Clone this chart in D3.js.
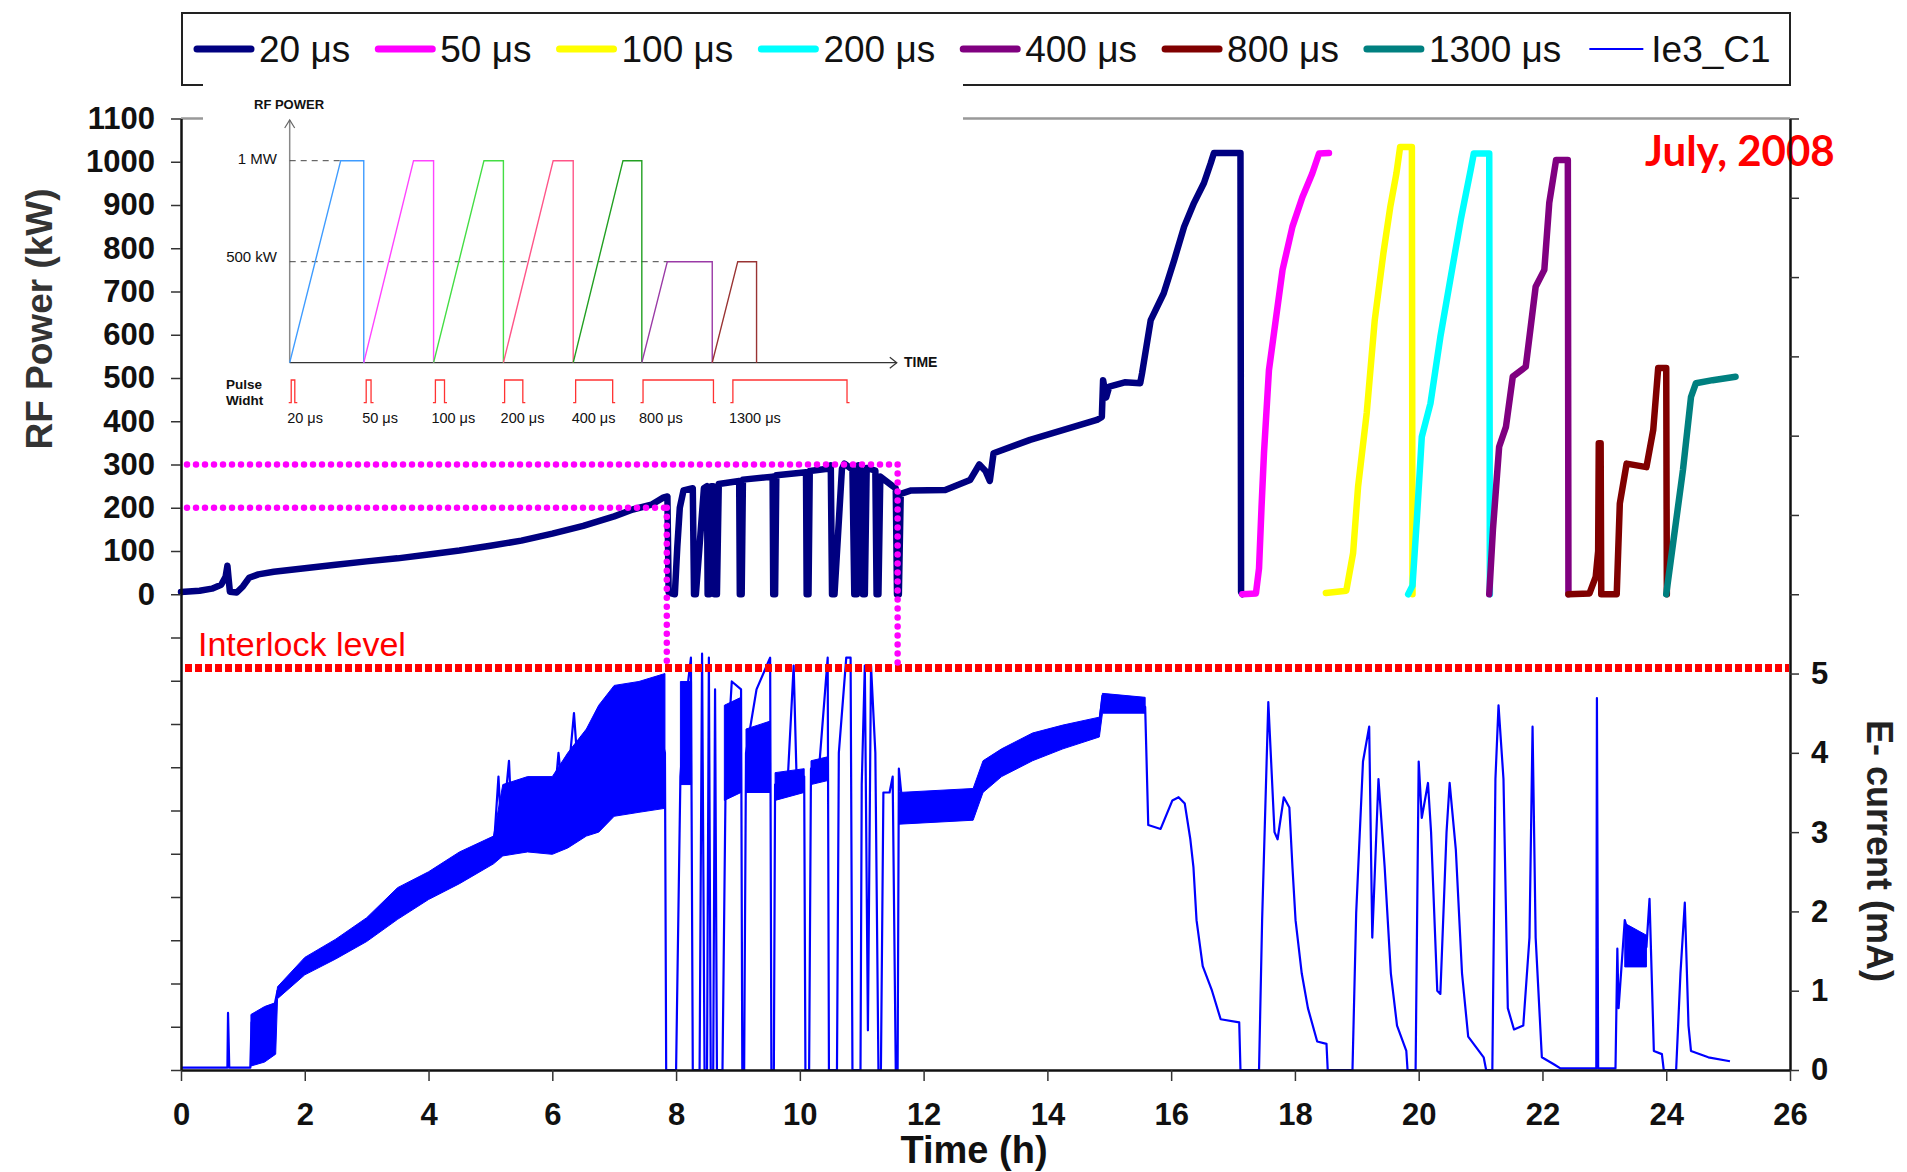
<!DOCTYPE html>
<html><head><meta charset="utf-8">
<script src="https://cdn.jsdelivr.net/npm/d3@7"></script>
<style>body{margin:0;background:#fff} svg{display:block}</style>
</head><body>
<svg id="c" width="1907" height="1172"></svg>
<script>
// ---------- DATA ----------
const xTicks = d3.range(0, 27, 2);
const powerTicks = d3.range(-1100, 1101, 100);
const powerLabelled = d3.range(0, 1101, 100);
const currentTicks = d3.range(0, 13, 1);
const currentLabelled = [0, 1, 2, 3, 4, 5];

const seriesNames = ["20 μs", "50 μs", "100 μs", "200 μs", "400 μs", "800 μs", "1300 μs", "Ie3_C1"];
const seriesColors = ["#000080", "#FF00FF", "#FFFF00", "#00FFFF", "#800080", "#800000", "#008080", "#0000FF"];

// RF power (kW) vs time (h)
const p20 = [[0,5],[0.3,8],[0.5,13],[0.65,22],[0.72,40],[0.75,66],[0.77,35],[0.79,6],[0.9,4],[1.0,18],[1.1,38],[1.25,46],[1.5,52],[2.0,60],[2.5,68],[3.0,76],[3.5,83],[4.0,92],[4.5,101],[5.0,112],[5.5,124],[6.0,140],[6.5,158],[7.0,180],[7.3,196],[7.6,207],[7.8,224],[7.86,226],[7.88,4],[7.98,0],[8.02,110],[8.06,200],[8.12,240],[8.27,245],[8.29,0],[8.32,0],[8.45,245],[8.5,250],[8.51,0],[8.54,0],[8.57,250],[8.6,250],[8.62,0],[8.66,0],[8.69,255],[9.02,262],[9.03,0],[9.06,0],[9.08,265],[9.56,272],[9.57,0],[9.6,0],[9.62,275],[10.1,282],[10.11,0],[10.14,0],[10.16,285],[10.45,290],[10.5,298],[10.52,0],[10.56,0],[10.68,290],[10.72,302],[10.85,288],[10.88,0],[10.92,0],[10.95,298],[11.0,282],[11.02,0],[11.05,0],[11.08,292],[11.22,286],[11.24,0],[11.27,0],[11.3,272],[11.5,250],[11.55,245],[11.57,0],[11.6,0],[11.63,232],[11.8,240],[12.35,241],[12.75,264],[12.9,300],[13.0,285],[13.07,262],[13.13,326],[13.72,357],[14.26,380],[14.8,403],[14.88,410],[14.9,495],[14.95,455],[15.0,480],[15.25,490],[15.5,488],[15.53,511],[15.67,634],[15.88,696],[16.05,773],[16.21,850],[16.37,905],[16.53,951],[16.64,997],[16.69,1020],[17.12,1020],[17.13,5],[17.15,0]];
const p50 = [[17.15,0],[17.37,2],[17.42,60],[17.46,200],[17.5,326],[17.58,518],[17.69,634],[17.8,750],[17.96,850],[18.12,918],[18.28,973],[18.39,1019],[18.55,1020]];
const p100 = [[18.5,3],[18.83,8],[18.94,95],[19.02,248],[19.16,419],[19.29,634],[19.43,789],[19.54,895],[19.64,973],[19.7,1034],[19.89,1034],[19.9,0]];
const p200 = [[19.83,0],[19.9,20],[19.97,172],[20.05,364],[20.19,441],[20.35,595],[20.51,727],[20.68,866],[20.84,981],[20.89,1019],[21.14,1019],[21.15,0]];
const p400 = [[21.14,0],[21.2,150],[21.3,341],[21.41,387],[21.52,503],[21.73,526],[21.89,711],[22.03,750],[22.11,905],[22.22,1004],[22.41,1004],[22.42,0]];
const p800 = [[22.42,0],[22.76,2],[22.86,40],[22.9,100],[22.91,349],[22.94,349],[22.95,0],[23.2,0],[23.25,210],[23.36,302],[23.68,294],[23.79,380],[23.87,523],[24.0,523],[24.01,0]];
const p1300 = [[24.0,0],[24.27,287],[24.4,456],[24.48,488],[24.75,495],[25.12,503]];

// E- current (mA) trace
const ieLine = [[0,0.03],[0.75,0.03],[0.76,0.72],[0.78,0.03],[1.12,0.03],[1.14,0.6],[1.2,0.1],[1.27,0.7],[1.33,0.15],[1.4,0.8],[1.45,0.2],[1.52,0.85],[1.56,1.0],[2.0,1.3],[2.5,1.5],[3.0,1.75],[3.5,2.05],[4.0,2.3],[4.5,2.5],[5.05,2.75],[5.13,3.7],[5.18,2.9],[5.3,3.9],[5.35,3.0],[6.0,3.1],[6.1,4.0],[6.2,3.2],[6.35,4.5],[6.45,3.4],[6.8,4.3],[7.2,4.2],[7.5,4.9],[7.82,4.0],[7.84,0],[8.0,0],[8.07,3.7],[8.15,4.6],[8.24,5.2],[8.27,0],[8.38,0],[8.42,5.25],[8.46,0],[8.5,0],[8.53,5.2],[8.56,0],[8.6,0],[8.63,4.8],[8.66,0],[8.75,0],[8.8,3.6],[8.9,4.9],[9.05,4.8],[9.07,0],[9.1,0],[9.13,4.0],[9.3,4.8],[9.52,5.2],[9.54,0],[9.58,0],[9.6,3.6],[9.8,3.6],[9.9,5.1],[9.95,3.6],[10.07,3.7],[10.09,0],[10.15,0],[10.18,3.8],[10.3,3.7],[10.45,5.2],[10.47,0],[10.6,0],[10.63,4.0],[10.75,5.2],[10.82,5.2],[10.85,0],[10.98,0],[11.0,3.6],[11.05,5.1],[11.1,0.5],[11.15,5.1],[11.22,4.0],[11.27,0],[11.31,0],[11.35,3.5],[11.45,3.5],[11.5,3.7],[11.55,0],[11.58,0],[11.6,3.8],[11.65,3.4],[12.0,3.3],[12.5,3.35],[12.8,3.4],[12.96,3.75],[13.26,3.9],[13.76,4.1],[14.25,4.24],[14.84,4.38],[14.89,4.72],[14.94,4.6],[15.58,4.58],[15.63,3.09],[15.83,3.04],[16.02,3.4],[16.12,3.44],[16.22,3.36],[16.31,2.91],[16.36,2.56],[16.41,1.89],[16.51,1.31],[16.66,1.0],[16.8,0.64],[17.1,0.6],[17.12,0],[17.42,0],[17.47,1.89],[17.57,4.64],[17.67,3.0],[17.72,2.91],[17.82,3.44],[17.91,3.31],[17.96,2.56],[18.01,1.89],[18.11,1.22],[18.21,0.78],[18.36,0.36],[18.51,0.33],[18.53,0],[18.93,0],[18.99,1.98],[19.1,3.89],[19.2,4.33],[19.25,1.67],[19.35,3.67],[19.45,2.56],[19.55,1.22],[19.65,0.56],[19.8,0.24],[19.82,0],[19.95,0],[20.0,3.89],[20.05,3.18],[20.15,3.62],[20.2,3.0],[20.3,1.0],[20.35,0.96],[20.45,3.0],[20.5,3.62],[20.6,2.78],[20.7,1.22],[20.8,0.42],[21.05,0.16],[21.09,0],[21.19,0],[21.24,3.67],[21.29,4.6],[21.37,3.67],[21.44,0.78],[21.54,0.51],[21.69,0.56],[21.79,1.67],[21.84,4.33],[21.89,1.67],[21.99,0.16],[22.19,0.07],[22.29,0.02],[22.87,0.02],[22.88,4.69],[22.9,0.02],[23.18,0.02],[23.21,1.53],[23.23,0.78],[23.33,1.89],[23.5,1.4],[23.68,1.55],[23.73,2.16],[23.8,0.24],[23.93,0.2],[23.96,0],[24.16,0],[24.23,1.22],[24.3,2.11],[24.36,0.56],[24.4,0.24],[24.68,0.16],[25.03,0.11]];

// E- current noise envelope [t, low, high]
const ieBands = [
  [[1.13,0.05,0.7],[1.35,0.1,0.8],[1.53,0.2,0.85],[1.56,0.9,1.05],[2.0,1.2,1.42],[2.5,1.4,1.65],[3.0,1.62,1.92],[3.5,1.9,2.3],[4.0,2.15,2.5],[4.5,2.35,2.75],[5.05,2.6,2.95],[5.2,2.7,3.6],[5.6,2.75,3.7],[6.0,2.72,3.7],[6.25,2.8,4.0],[6.55,2.95,4.3],[6.75,3.0,4.6],[7.0,3.2,4.85],[7.4,3.25,4.9],[7.82,3.3,5.0]],
  [[8.07,3.6,4.9],[8.25,3.6,4.9]],
  [[8.78,3.4,4.6],[9.05,3.5,4.7]],
  [[9.13,3.5,4.3],[9.52,3.5,4.4]],
  [[9.6,3.4,3.75],[10.07,3.5,3.8]],
  [[10.18,3.6,3.9],[10.45,3.65,3.95]],
  [[11.6,3.1,3.5],[12.8,3.15,3.55],[12.96,3.5,3.9],[13.26,3.7,4.05],[13.76,3.9,4.25],[14.25,4.05,4.35],[14.84,4.2,4.45],[14.89,4.5,4.75],[15.58,4.5,4.7]],
  [[23.33,1.3,1.85],[23.68,1.3,1.7]]
];

const interlockLevel = 5.07;           // mA
const windowLevels = [300, 200];       // kW
const windowTimes = [11.58, 7.85];     // h

// Inset schematic (arbitrary time units 0-100, power in kW)
const insetStart = [0, 12.2, 23.7, 35.2, 46.7, 58.0, 69.6];
const insetRampEnd = [8.4, 20.4, 32.0, 43.4, 54.9, 62.2, 73.8];
const insetEnd = [12.2, 23.7, 35.2, 46.7, 58.0, 69.6, 76.9];
const insetLevel = [1000, 1000, 1000, 1000, 1000, 500, 500];
const insetColors = ["#3f9cff", "#ff44ff", "#44dd44", "#ff5588", "#22a022", "#9a3aa6", "#993333"];
const pwStart = [0.25, 12.6, 24.0, 35.4, 47.1, 58.2, 73.0];
const pwEnd = [0.84, 13.4, 25.5, 38.4, 53.2, 69.8, 91.8];
const pwLabels = ["20 μs", "50 μs", "100 μs", "200 μs", "400 μs", "800 μs", "1300 μs"];

// ---------- DRAW ----------
const svg = d3.select("#c");
const F = "'Liberation Sans', Arial, sans-serif";
const x = d3.scaleLinear().domain([0, 26]).range([181, 1790]);
const yP = d3.scaleLinear().domain([-1100, 1100]).range([1070, 118.5]);
const yI = d3.scaleLinear().domain([0, 12]).range([1070, 118.5]);

// plot top border
svg.append("line").attr("x1", x(0)).attr("x2", x(26)).attr("y1", yP(1100)).attr("y2", yP(1100))
  .attr("stroke", "#999").attr("stroke-width", 2.5);

// legend
const lg = svg.append("g");
lg.append("rect").attr("x", 182).attr("y", 13).attr("width", 1608).attr("height", 72)
  .attr("fill", "#fff").attr("stroke", "#222").attr("stroke-width", 2);
let lx = 197;
seriesNames.forEach((n, i) => {
  lg.append("line").attr("x1", lx).attr("x2", lx + 54).attr("y1", 49).attr("y2", 49)
    .attr("stroke", seriesColors[i]).attr("stroke-width", i < 7 ? 7 : 2).attr("stroke-linecap", i < 7 ? "round" : "butt");
  const t = lg.append("text").attr("x", lx + 62).attr("y", 62).text(n)
    .attr("font-family", F).attr("font-size", 37).attr("fill", "#111");
  lx += 62 + t.node().getComputedTextLength() + 28;
});

// current noise envelope + trace
const area = d3.area().x(d => x(d[0])).y0(d => yI(d[1])).y1(d => yI(d[2]));
ieBands.forEach(b => svg.append("path").attr("d", area(b)).attr("fill", "#0000FF").attr("stroke", "#0000FF").attr("stroke-width", 1));
svg.append("path").attr("d", d3.line().x(d => x(d[0])).y(d => yI(d[1]))(ieLine))
  .attr("fill", "none").attr("stroke", "#0000FF").attr("stroke-width", 2.2).attr("stroke-linejoin", "round");

// power series
const pLine = d3.line().x(d => x(d[0])).y(d => yP(d[1]));
[p20, p50, p100, p200, p400, p800, p1300].forEach((s, i) => {
  svg.append("path").attr("d", pLine(s)).attr("fill", "none").attr("stroke", seriesColors[i])
    .attr("stroke-width", 6.5).attr("stroke-linejoin", "round").attr("stroke-linecap", "round");
});

// interlock level
svg.append("line").attr("x1", 185).attr("x2", x(26) - 1).attr("y1", yI(interlockLevel)).attr("y2", yI(interlockLevel))
  .attr("stroke", "#FF0000").attr("stroke-width", 8).attr("stroke-dasharray", "7,3");
svg.append("text").attr("x", 198).attr("y", 656).text("Interlock level")
  .attr("font-family", F).attr("font-size", 34).attr("fill", "#FF0000");

// magenta dotted window
const dot = sel => sel.attr("stroke", "#FF00FF").attr("stroke-width", 6.5).attr("stroke-linecap", "round").attr("stroke-dasharray", "0,9");
windowLevels.forEach((lv, i) => {
  dot(svg.append("line").attr("x1", 187).attr("x2", x(windowTimes[i])).attr("y1", yP(lv)).attr("y2", yP(lv)));
  dot(svg.append("line").attr("x1", x(windowTimes[i])).attr("x2", x(windowTimes[i])).attr("y1", yP(lv)).attr("y2", yI(interlockLevel)));
});

// July, 2008
svg.append("text").attr("x", 1645).attr("y", 166).text("July, 2008")
  .attr("font-family", "Lato, 'Open Sans', sans-serif").attr("font-weight", "bold").attr("font-size", 42).attr("fill", "#FF0000");

// inset
const ins = svg.append("g");
ins.append("rect").attr("x", 203).attr("y", 80).attr("width", 760).attr("height", 356).attr("fill", "#fff");
const xs = d3.scaleLinear().domain([0, 100]).range([289.7, 896.8]);
const ys = d3.scaleLinear().domain([0, 1000]).range([362.7, 160.7]);
ins.append("line").attr("x1", xs(0)).attr("x2", xs(0)).attr("y1", 120).attr("y2", ys(0)).attr("stroke", "#888").attr("stroke-width", 1.5);
ins.append("path").attr("d", `M${xs(0)-5},128L${xs(0)},120L${xs(0)+5},128`).attr("fill", "none").attr("stroke", "#666").attr("stroke-width", 1.2);
ins.append("line").attr("x1", xs(0)).attr("x2", xs(100)).attr("y1", ys(0)).attr("y2", ys(0)).attr("stroke", "#333").attr("stroke-width", 1.3);
ins.append("path").attr("d", `M${xs(100)-7},${ys(0)-5.5}L${xs(100)},${ys(0)}L${xs(100)-7},${ys(0)+5.5}`).attr("fill", "none").attr("stroke", "#333").attr("stroke-width", 1.2);
[[1000, 0], [500, 5]].forEach(([lv, k]) => {
  ins.append("line").attr("x1", xs(0)).attr("x2", xs(insetRampEnd[k])).attr("y1", ys(lv)).attr("y2", ys(lv))
    .attr("stroke", "#444").attr("stroke-width", 1).attr("stroke-dasharray", "6,5");
});
insetStart.forEach((s, i) => {
  ins.append("path").attr("d", `M${xs(s)},${ys(0)}L${xs(insetRampEnd[i])},${ys(insetLevel[i])}L${xs(insetEnd[i])},${ys(insetLevel[i])}L${xs(insetEnd[i])},${ys(0)}`)
    .attr("fill", "none").attr("stroke", insetColors[i]).attr("stroke-width", 1.4);
  const a = xs(pwStart[i]), b = xs(pwEnd[i]);
  ins.append("path").attr("d", `M${a-2.5},402.7H${a}V380H${b}V402.7H${b+2.5}`)
    .attr("fill", "none").attr("stroke", "#FF3333").attr("stroke-width", 1.3);
  ins.append("text").attr("x", a - 4).attr("y", 423).text(pwLabels[i])
    .attr("font-family", F).attr("font-size", 14.5).attr("fill", "#111");
});
const itext = (t, xx, yy, opt) => ins.append("text").attr("x", xx).attr("y", yy).text(t)
  .attr("font-family", F).attr("font-size", opt.size).attr("font-weight", opt.bold ? "bold" : "normal")
  .attr("text-anchor", opt.anchor || "start").attr("fill", "#111");
itext("RF POWER", 254, 109, {size: 13, bold: true});
itext("TIME", 904, 367, {size: 14, bold: true});
itext("1 MW", 277, 164, {size: 15, anchor: "end"});
itext("500 kW", 277, 262, {size: 15, anchor: "end"});
itext("Pulse", 226, 389, {size: 13.5, bold: true});
itext("Widht", 226, 405, {size: 13.5, bold: true});

// axes
const styleAxis = (g) => {
  g.selectAll(".domain").attr("stroke", "#111").attr("stroke-width", 2.5);
  g.selectAll(".tick line").attr("stroke", "#333").attr("stroke-width", 1.5);
  g.selectAll("text").attr("font-family", F).attr("font-weight", "bold").attr("font-size", 31).attr("fill", "#111");
};
svg.append("g").attr("transform", `translate(${x(0)},0)`)
  .call(d3.axisLeft(yP).tickValues(powerTicks).tickFormat(d => powerLabelled.includes(d) ? d : "").tickSize(10).tickSizeOuter(0).tickPadding(16))
  .call(styleAxis);
svg.append("g").attr("transform", `translate(${x(26)},0)`)
  .call(d3.axisRight(yI).tickValues(currentTicks).tickFormat(d => currentLabelled.includes(d) ? d : "").tickSize(9).tickSizeOuter(0).tickPadding(12))
  .call(styleAxis);
svg.append("g").attr("transform", `translate(0,${yP(-1100)})`)
  .call(d3.axisBottom(x).tickValues(xTicks).tickSize(11).tickSizeOuter(0).tickPadding(22))
  .call(styleAxis);

// axis titles
svg.append("text").attr("transform", "translate(52,319) rotate(-90)").attr("text-anchor", "middle")
  .text("RF Power (kW)").attr("font-family", F).attr("font-weight", "bold").attr("font-size", 37).attr("fill", "#333");
svg.append("text").attr("transform", "translate(1867,851) rotate(90)").attr("text-anchor", "middle")
  .text("E- current (mA)").attr("font-family", F).attr("font-weight", "bold").attr("font-size", 36).attr("fill", "#222");
svg.append("text").attr("x", 974).attr("y", 1163).attr("text-anchor", "middle")
  .text("Time (h)").attr("font-family", F).attr("font-weight", "bold").attr("font-size", 38).attr("fill", "#111");
</script>
</body></html>
